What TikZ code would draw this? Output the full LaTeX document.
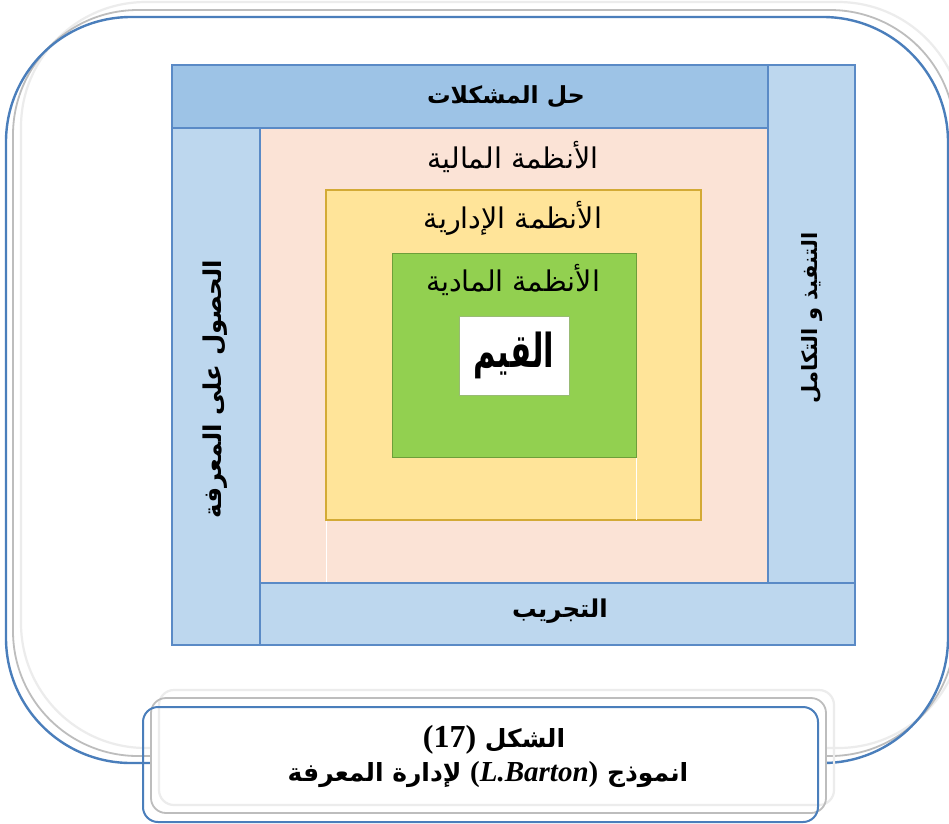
\documentclass[tikz,border=0pt]{standalone}
\usepackage{graphicx}
\usepackage{fontspec}
\setmainfont{Liberation Serif}
\newfontfamily\arabicfont[Script=Arabic]{DejaVu Sans}
\TeXXeTstate=1

\definecolor{frameblue}{HTML}{4A7EBB}
\definecolor{shadowmid}{HTML}{BDBDBD}
\definecolor{shadowlight}{HTML}{ECECEC}
\definecolor{barblue}{HTML}{9DC3E6}
\definecolor{sideblue}{HTML}{BDD7EE}
\definecolor{barline}{HTML}{5A8AC6}
\definecolor{peach}{HTML}{FBE3D6}
\definecolor{sand}{HTML}{FFE499}
\definecolor{sandline}{HTML}{D3AA35}
\definecolor{leaf}{HTML}{92D050}
\definecolor{leafline}{HTML}{6E9E3A}

\newcommand{\artxt}[1]{{\arabicfont\beginR #1\endR}}

% rounded frame with circular corners: style, left, top, right, bottom, radius
\newcommand{\roundframe}[6]{%
  \draw[#1] ({#2},{#3+#6}) arc[start angle=180,end angle=270,radius=#6]
    -- ({#4-#6},{#3}) arc[start angle=270,end angle=360,radius=#6]
    -- ({#4},{#5-#6}) arc[start angle=0,end angle=90,radius=#6]
    -- ({#2+#6},{#5}) arc[start angle=90,end angle=180,radius=#6] -- cycle;}

\tikzset{
  barbox/.style={draw=barline, line width=1.3pt},
  shadowA/.style={draw=shadowlight, line width=2.2pt},
  shadowB/.style={draw=shadowmid, line width=1.8pt},
  framebox/.style={draw=frameblue, line width=2.4pt},
  label/.style={inner sep=0pt, font=\fontsize{28.5}{32}\selectfont},
  boldlabel/.style={inner sep=0pt, font=\bfseries},
}

\begin{document}
\begin{tikzpicture}[x=1pt,y=-1pt]
\useasboundingbox (0,0) rectangle (949,823);
\clip (0,0) rectangle (949,823);
\fill[white] (0,0) rectangle (949,823);

% outer rounded frame with its soft shadow
\roundframe{shadowA}{21}{2}{963}{748}{125}
\roundframe{shadowB}{13}{10}{955}{756}{125}
\roundframe{framebox}{6}{17}{948}{763}{125}

% nested systems
\fill[peach] (260,128) rectangle (768,583);
\draw[white, line width=0.8pt] (326,520) -- (326,583);
\draw[fill=sand, draw=sandline, line width=1.3pt] (326,190) rectangle (701,520);
\draw[white, line width=0.8pt] (636,457) -- (636,520);
\draw[fill=leaf, draw=leafline, line width=0.8pt] (392,253) rectangle (636,457);
\draw[fill=white, draw=leafline!70, line width=0.8pt] (459,316) rectangle (569,395);

% surrounding activity bars
\draw[barbox, fill=barblue] (172,65) rectangle (768,128);
\draw[barbox, fill=sideblue] (768,65) rectangle (855,583);
\draw[barbox, fill=sideblue] (172,128) rectangle (260,645);
\draw[barbox, fill=sideblue] (260,583) rectangle (855,645);

% labels
\node[boldlabel, font=\fontsize{23.5}{26}\selectfont\bfseries] (solve) at (506,97) {\artxt{حل المشكلات}};
\node[label] (fin) at (513,157) {\artxt{الأنظمة المالية}};
\node[label] (adm) at (513,218) {\artxt{الأنظمة الإدارية}};
\node[label] (phy) at (513,280) {\artxt{الأنظمة المادية}};
\node[inner sep=0pt, font=\fontsize{36}{40}\selectfont\bfseries] (val) at (514,355)
  {\scalebox{0.85}[1.3]{\artxt{القيم}}};
\node[boldlabel, font=\fontsize{24.5}{27}\selectfont\bfseries, rotate=90] (acq) at (215,389) {\artxt{الحصول على المعرفة}};
\node[boldlabel, font=\fontsize{21}{24}\selectfont\bfseries, rotate=90] (impl) at (812,318) {\artxt{التنفيذ و التكامل}};
\node[boldlabel, font=\fontsize{24.5}{27}\selectfont\bfseries] (exp) at (560,611) {\artxt{التجريب}};

% caption box
\fill[white, rounded corners=15pt] (151,698) rectangle (826,813);
\draw[shadowA, rounded corners=15pt] (159,690) rectangle (834,805);
\draw[shadowB, rounded corners=15pt] (151,698) rectangle (826,813);
\draw[framebox, line width=2pt, rounded corners=15pt] (143,707) rectangle (818,822);
\node[inner sep=0pt, font=\fontsize{25}{28}\selectfont\bfseries] (cap1) at (494,740)
  {{\arabicfont\beginR الشكل \beginL{\rmfamily\fontsize{32}{34}\selectfont(17)}\endL\endR}};
\node[inner sep=0pt, font=\fontsize{25}{28}\selectfont\bfseries] (cap2) at (488,775)
  {{\arabicfont\beginR انموذج \beginL{\rmfamily\fontsize{29}{32}\selectfont(\textit{L.Barton})}\endL{} لإدارة المعرفة\endR}};
\end{tikzpicture}
\end{document}
